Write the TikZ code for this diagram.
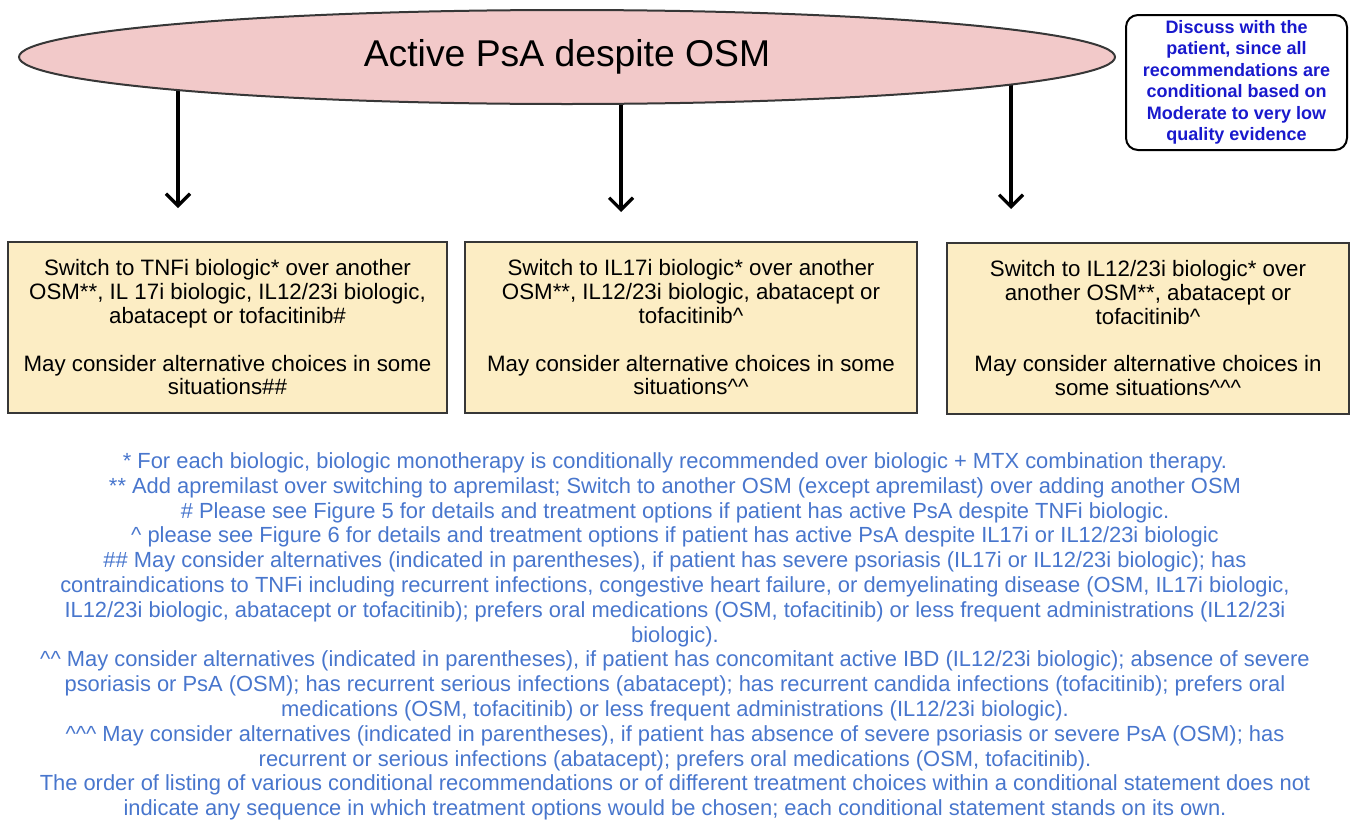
\documentclass[tikz,border=0pt]{standalone}
\usepackage{fontspec}
\setmainfont{Liberation Sans}
\usetikzlibrary{arrows.meta,backgrounds,shapes.geometric}
\definecolor{pinkfill}{RGB}{242,201,201}
\definecolor{tanfill}{RGB}{252,237,196}
\definecolor{boxline}{RGB}{55,55,55}
\definecolor{discblue}{RGB}{25,25,205}
\definecolor{footblue}{RGB}{72,118,205}
\tikzset{
  titleshape/.style={ellipse, draw=boxline, line width=2pt, fill=pinkfill,
    minimum width=1096pt, minimum height=94pt, inner sep=0pt,
    font=\fontsize{37.3}{40}\selectfont},
  recbox/.style={rectangle, draw=boxline, line width=2pt, fill=tanfill,
    minimum height=171pt, inner sep=0pt, align=center,
    font=\fontsize{22.3}{23.8}\selectfont},
  discbox/.style={rectangle, rounded corners=12pt, draw=black, line width=2pt,
    fill=white, minimum width=221pt, minimum height=135pt, inner sep=0pt,
    align=center, text=discblue, font=\bfseries\fontsize{18}{21.5}\selectfont},
  footnote/.style={align=center, text=footblue, inner sep=0pt,
    font=\fontsize{21.9}{24.8}\selectfont},
  arr/.style={line width=3.2pt, -{Straight Barb[length=12pt, width=24pt, line width=3.2pt]}}
}
\begin{document}
\begin{tikzpicture}[x=1pt, y=-1pt]
\useasboundingbox (0,0) rectangle (1351,822);
\node[titleshape] (title) at (567,57) {Active PsA despite OSM};
\node[discbox] (disc) at (1236.5,82.5) {Discuss with the\\patient, since all\\recommendations are\\conditional based on\\Moderate to very low\\quality evidence};
\node[recbox, minimum width=439pt] (tnf) at (227.5,327.5) {Switch to TNFi biologic* over another\\OSM**, IL 17i biologic, IL12/23i biologic,\\abatacept or tofacitinib\#\\[23.8pt]May consider alternative choices in some\\situations\#\#};
\node[recbox, minimum width=452pt] (il17) at (691,327.5) {Switch to IL17i biologic* over another\\OSM**, IL12/23i biologic, abatacept or\\tofacitinib\^{}\\[23.8pt]May consider alternative choices in some\\situations\^{}\^{}};
\node[recbox, minimum width=402pt] (il12) at (1148,328) {Switch to IL12/23i biologic* over\\another OSM**, abatacept or\\tofacitinib\^{}\\[23.8pt]May consider alternative choices in\\some situations\^{}\^{}\^{}};
\coordinate (tipA) at (178,208);
\coordinate (tipB) at (621,212);
\coordinate (tipC) at (1011,209);
\begin{scope}[on background layer]
\draw[arr] (title.center -| tipA) -- (tipA);
\draw[arr] (title.center -| tipB) -- (tipB);
\draw[arr] (title.center -| tipC) -- (tipC);
\end{scope}
\node[footnote] (notes) at (675,636.5) {* For each biologic, biologic monotherapy is conditionally recommended over biologic + MTX combination therapy.\\
** Add apremilast over switching to apremilast; Switch to another OSM (except apremilast) over adding another OSM\\
\# Please see Figure 5 for details and treatment options if patient has active PsA despite TNFi biologic.\\
\^{} please see Figure 6 for details and treatment options if patient has active PsA despite IL17i or IL12/23i biologic\\
\#\# May consider alternatives (indicated in parentheses), if patient has severe psoriasis (IL17i or IL12/23i biologic); has\\
contraindications to TNFi including recurrent infections, congestive heart failure, or demyelinating disease (OSM, IL17i biologic,\\
IL12/23i biologic, abatacept or tofacitinib); prefers oral medications (OSM, tofacitinib) or less frequent administrations (IL12/23i\\
biologic).\\
\^{}\^{} May consider alternatives (indicated in parentheses), if patient has concomitant active IBD (IL12/23i biologic); absence of severe\\
psoriasis or PsA (OSM); has recurrent serious infections (abatacept); has recurrent candida infections (tofacitinib); prefers oral\\
medications (OSM, tofacitinib) or less frequent administrations (IL12/23i biologic).\\
\^{}\^{}\^{} May consider alternatives (indicated in parentheses), if patient has absence of severe psoriasis or severe PsA (OSM); has\\
recurrent or serious infections (abatacept); prefers oral medications (OSM, tofacitinib).\\
The order of listing of various conditional recommendations or of different treatment choices within a conditional statement does not\\
indicate any sequence in which treatment options would be chosen; each conditional statement stands on its own.};
\end{tikzpicture}
\end{document}
